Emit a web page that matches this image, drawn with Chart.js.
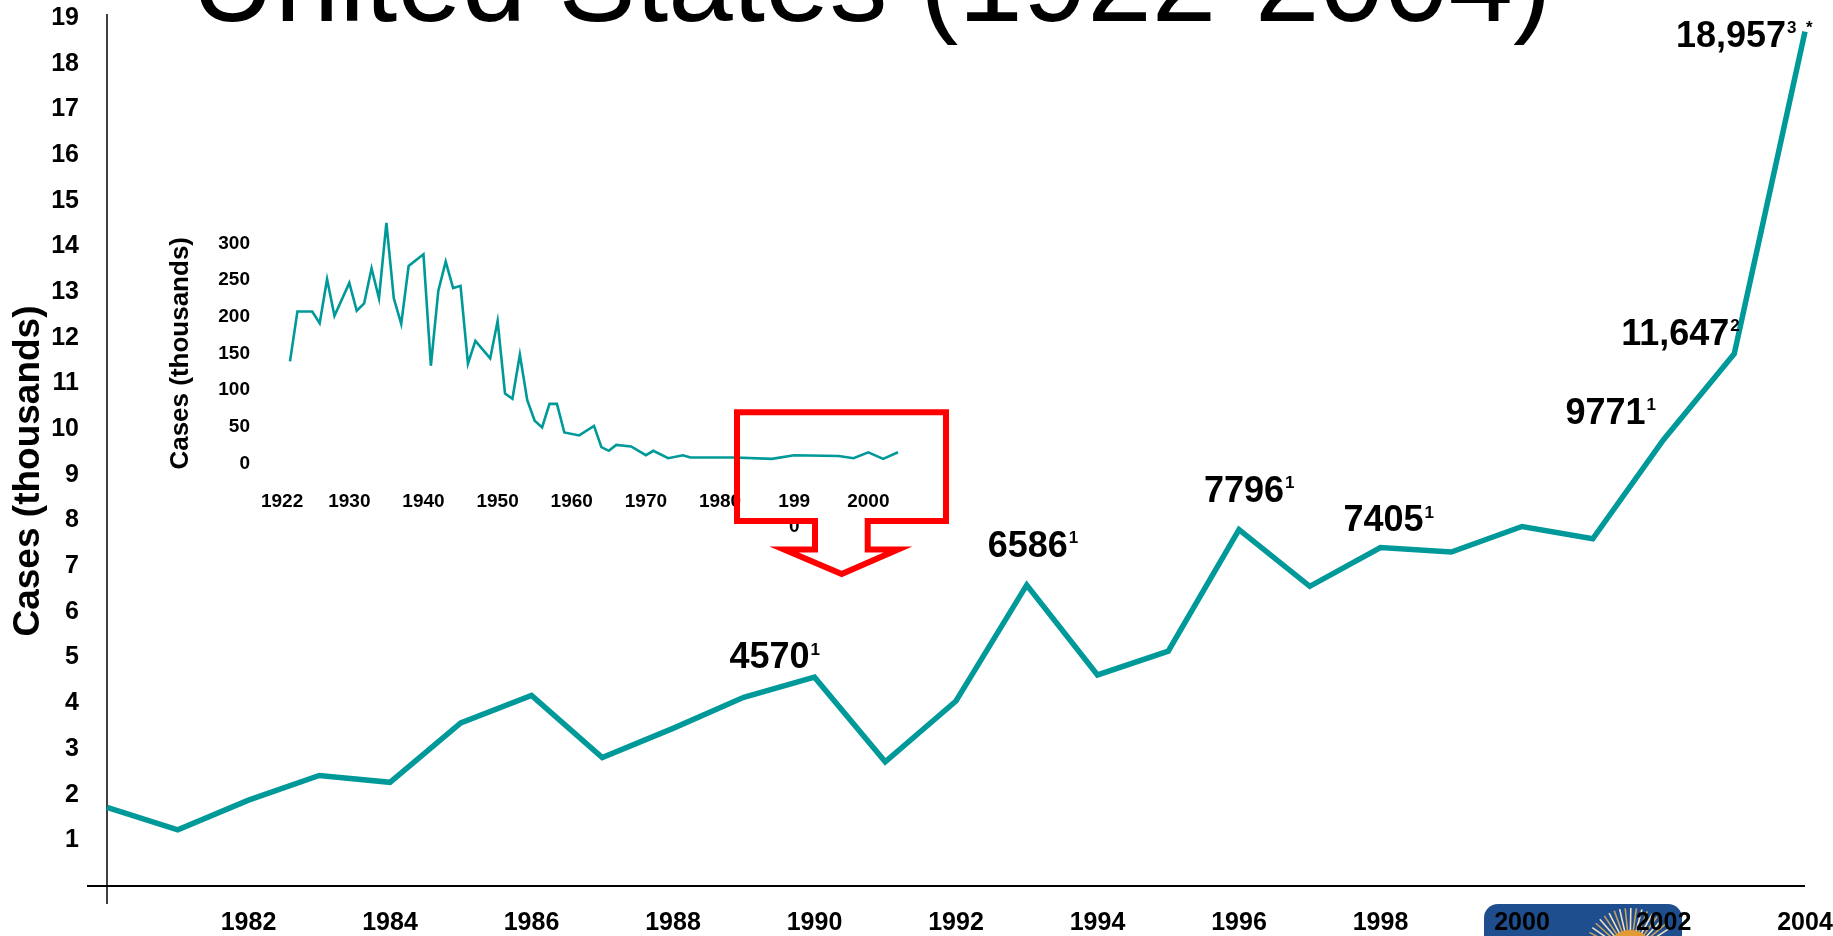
<!DOCTYPE html>
<html>
<head>
<meta charset="utf-8">
<title>Pertussis cases, United States</title>
<script src="https://cdn.jsdelivr.net/npm/chart.js@4.4.1/dist/chart.umd.min.js"></script>
<style>
  html, body { margin:0; padding:0; background:#fff; overflow:hidden; }
  #wrap { position:relative; width:1833px; height:936px; }
  #mainChart { position:absolute; left:0; top:0; }
  #insetChart { position:absolute; left:140px; top:180px; }
</style>
</head>
<body>
<div id="wrap">
  <canvas id="mainChart" width="1833" height="936"></canvas>
  <canvas id="insetChart" width="840" height="420"></canvas>
</div>
<script>
document.addEventListener("DOMContentLoaded", function(){

// ----- Data (cases in thousands) -----
const years = [1980,1981,1982,1983,1984,1985,1986,1987,1988,1989,1990,1991,1992,
               1993,1994,1995,1996,1997,1998,1999,2000,2001,2002,2003,2004];
const cases = [1.72,1.23,1.88,2.42,2.27,3.57,4.17,2.81,3.45,4.13,4.57,2.72,4.05,
               6.59,4.62,5.14,7.80,6.56,7.41,7.31,7.87,7.60,9.77,11.65,18.7];

const labelYears = [1990, 1993, 1996, 1998, 2002, 2003, 2004];
const labelTexts = ['4570', '6586', '7796', '7405', '9771', '11,647', '18,957'];
const labelSups  = ['1', '1', '1', '1', '1', '2', '3  *'];

const insetYears = [1922,1923,1925,1926,1927,1928,1930,1931,1932,1933,1934,1935,1936,1937,1938,
                    1940,1941,1942,1943,1944,1945,1946,1947,1949,1950,1951,1952,1953,1954,1955,
                    1956,1957,1958,1959,1961,1963,1964,1965,1966,1968,1970,1971,1973,1975,1976,
                    1982,1987,1990,1996,1998,2000,2002,2004];
const insetCases = [139,207,207,191,251,201,246,208,218,266,225,328,225,190,269,
                    285,133,235,275,239,242,136,167,143,194,95,88,148,86,58,
                    49,81,81,42,38,51,22,17,25,23,11,17,7,11,8,
                    8,6,11,10,7,15,6,15];
const insetTicks = [1922,1930,1940,1950,1960,1970,1980,1990,2000];

// ----- Styles -----
const FONT = "'Liberation Sans', Arial, Helvetica, sans-serif";
const TEAL = '#009999';
const INSET_LEFT = 140, INSET_TOP = 180;
// where each value label sits relative to its point: [dx to text start, dy to baseline]
const labelOffsets = [[-85,-9],[-39,-28],[-35,-28],[-37,-16],[-98,-16],[-113,-9],[-129,15]];

// --------------------
// MAIN CHART PLUGIN
// --------------------
const slideDecor = {
  id: 'slideDecor',
  beforeDraw(chart){
    const ctx = chart.ctx;
    ctx.save();
    // logo in the bottom right corner
    ctx.fillStyle = '#1f4e8e';
    ctx.beginPath();
    ctx.roundRect(1484, 904, 198, 70, 14);
    ctx.fill();
    const cx = 1630, cy = 954;
    for(let a = 208; a <= 332; a += 7){
      const r = a*Math.PI/180;
      ctx.strokeStyle = (Math.round(a/7)%2) ? '#efe0c0' : '#c9a263';
      ctx.lineWidth = 1.6;
      ctx.beginPath();
      ctx.moveTo(cx+Math.cos(r)*22, cy+Math.sin(r)*22);
      ctx.lineTo(cx+Math.cos(r)*46, cy+Math.sin(r)*46);
      ctx.stroke();
    }
    ctx.fillStyle = '#e39a35';
    ctx.beginPath(); ctx.arc(cx, cy, 24, 0, Math.PI*2); ctx.fill();
    ctx.restore();
  },
  beforeDatasetsDraw(chart){
    const {ctx, chartArea:a} = chart;
    ctx.save();
    ctx.strokeStyle = '#000';
    ctx.lineWidth = 1.5;
    ctx.beginPath(); ctx.moveTo(a.left, a.top-4); ctx.lineTo(a.left, a.bottom+18); ctx.stroke();
    ctx.lineWidth = 2.2;
    ctx.beginPath(); ctx.moveTo(a.left-20, a.bottom); ctx.lineTo(a.right, a.bottom); ctx.stroke();
    ctx.restore();
  },
  afterDatasetsDraw(chart){
    const ctx = chart.ctx;
    const pts = chart.getDatasetMeta(0).data;
    ctx.save();
    ctx.fillStyle = '#000';
    ctx.textAlign = 'left';
    ctx.textBaseline = 'alphabetic';
    labelYears.forEach((yr, i)=>{
      const p = pts[years.indexOf(yr)];
      const x = p.x + labelOffsets[i][0], y = p.y + labelOffsets[i][1];
      ctx.font = 'bold 36px ' + FONT;
      ctx.fillText(labelTexts[i], x, y);
      const w = ctx.measureText(labelTexts[i]).width;
      ctx.font = 'bold 17px ' + FONT;
      ctx.fillText(labelSups[i], x + w + 1, y - 13.5);
    });
    // slide title (cut off by the top edge)
    ctx.font = '116px ' + FONT;
    ctx.fillText('United States (1922-2004)', 191, 21);
    // y axis title
    ctx.translate(29, 471);
    ctx.rotate(-Math.PI/2);
    ctx.textAlign = 'center';
    ctx.textBaseline = 'middle';
    ctx.font = 'bold 37px ' + FONT;
    ctx.fillText('Cases (thousands)', 0, 0);
    ctx.restore();
  }
};

// --------------------
// MAIN CHART
// --------------------
new Chart(document.getElementById('mainChart'), {
  type: 'line',
  data: { labels: years, datasets: [{ data: cases, borderColor: TEAL, borderWidth: 5.5, pointRadius: 0, tension: 0, clip: false }] },
  options: {
    responsive: false, animation: false, events: [],
    layout: { padding: { top: 18, right: 28, left: 0, bottom: 0 } },
    plugins: { legend: { display: false }, tooltip: { enabled: false } },
    scales: {
      x: {
        type: 'category', offset: false,
        grid: { display: false, drawTicks: false }, border: { display: false },
        ticks: { autoSkip: false, maxRotation: 0, padding: 22, color: '#000',
                 font: { family: FONT, size: 25, weight: 'bold' },
                 callback: (v, i) => (i > 0 && i % 2 === 0) ? String(years[i]) : '' },
        afterFit: s => { s.height = 50; s.paddingLeft = 0; s.paddingRight = 0; }
      },
      y: {
        min: 0, max: 19,
        grid: { display: false, drawTicks: false }, border: { display: false },
        ticks: { stepSize: 1, padding: 28, color: '#000',
                 font: { family: FONT, size: 25, weight: 'bold' },
                 callback: v => v === 0 ? '' : v },
        afterFit: s => { s.width = 107; s.paddingTop = 0; s.paddingBottom = 0; }
      }
    }
  },
  plugins: [slideDecor]
});

// --------------------
// INSET CHART (1922-2004)
// --------------------
const callout = {
  id: 'callout',
  afterDraw(chart){
    const ctx = chart.ctx;
    const path = [[815,521],[737,521],[737,412.3],[946,412.3],[946,521],[867.7,521],
                  [867.7,549.5],[898,549.5],[841.7,574],[784,549.5],[815,549.5]];
    ctx.save();
    ctx.translate(-INSET_LEFT, -INSET_TOP);
    ctx.strokeStyle = '#ff0000';
    ctx.lineWidth = 6;
    ctx.lineJoin = 'miter';
    ctx.beginPath();
    path.forEach(([x, y], i) => i ? ctx.lineTo(x, y) : ctx.moveTo(x, y));
    ctx.closePath();
    ctx.stroke();
    ctx.restore();
  }
};

new Chart(document.getElementById('insetChart'), {
  type: 'line',
  data: { datasets: [{ data: insetYears.map((x, i) => ({ x, y: insetCases[i] })),
                       borderColor: TEAL, borderWidth: 2.6, pointRadius: 0, tension: 0, clip: false }] },
  options: {
    responsive: false, animation: false, events: [],
    layout: { padding: { top: 63.3, right: 82, left: 0, bottom: 0 } },
    plugins: { legend: { display: false }, tooltip: { enabled: false } },
    scales: {
      x: {
        type: 'linear', min: 1922, max: 2004,
        grid: { display: false, drawTicks: false }, border: { display: false },
        afterBuildTicks: s => { s.ticks = insetTicks.map(v => ({ value: v })); },
        ticks: { autoSkip: false, maxRotation: 0, padding: 26, color: '#000',
                 font: { family: FONT, size: 19, weight: 'bold', lineHeight: 1.3 },
                 // the first label sits a little left of its year in the original
                 callback: v => v === 1990 ? ['199', '0'] : (v === 1922 ? '1922   ' : String(v)) },
        afterFit: s => { s.height = 136.7; s.paddingLeft = 0; s.paddingRight = 0; }
      },
      y: {
        min: 0, max: 300,
        grid: { display: false, drawTicks: false }, border: { display: false },
        ticks: { stepSize: 50, padding: 40, color: '#000',
                 font: { family: FONT, size: 19, weight: 'bold' } },
        title: { display: true, text: 'Cases (thousands)', color: '#000',
                 font: { family: FONT, size: 26, weight: 'bold' }, padding: { top: 25, bottom: 0 } },
        afterFit: s => { s.width = 150; s.paddingTop = 0; s.paddingBottom = 0; }
      }
    }
  },
  plugins: [callout]
});

});
</script>
</body>
</html>
